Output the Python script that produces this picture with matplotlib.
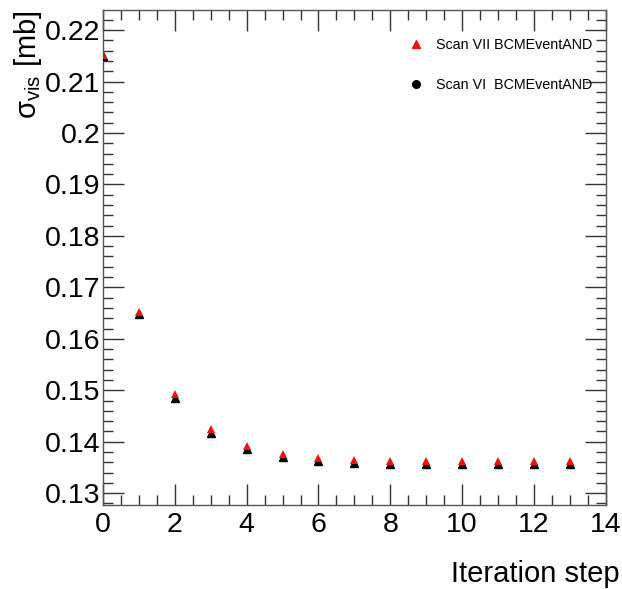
import matplotlib
matplotlib.use("Agg")
import matplotlib.pyplot as plt
from matplotlib.lines import Line2D
from matplotlib.ticker import MultipleLocator, FuncFormatter

plt.rcParams['font.family'] = ['Liberation Sans', 'DejaVu Sans']
plt.rcParams['mathtext.fontset'] = 'custom'
plt.rcParams['mathtext.rm'] = 'Liberation Sans'
plt.rcParams['mathtext.it'] = 'Liberation Sans:italic'

steps = list(range(14))
scan7 = [0.2152, 0.1652, 0.1492, 0.1424, 0.1391, 0.1377, 0.1369, 0.1365, 0.1363,
         0.1363, 0.1362, 0.1362, 0.1362, 0.1362]
scan6 = [0.2149, 0.1648, 0.1485, 0.1417, 0.1385, 0.1370, 0.1362, 0.1358, 0.1357,
         0.1357, 0.1356, 0.1356, 0.1356, 0.1356]
label7 = "Scan VII BCMEventAND"
label6 = "Scan VI  BCMEventAND"

fig = plt.figure(figsize=(6.22, 5.89), dpi=100)
ax = fig.add_axes([0.1656, 0.1426, 0.8084, 0.8404])

ax.plot(steps, scan6, linestyle='none', marker='^', markersize=5.5, color='black', zorder=3)
ax.plot(steps, scan7, linestyle='none', marker='^', markersize=5.5, color='#ee1111',
        markeredgewidth=0, zorder=4)

ax.set_xlim(0, 14)
ax.set_ylim(0.1277, 0.2239)
ax.xaxis.set_major_locator(MultipleLocator(2))
ax.xaxis.set_minor_locator(MultipleLocator(0.5))
ax.yaxis.set_major_locator(MultipleLocator(0.01))
ax.yaxis.set_minor_locator(MultipleLocator(0.002))
ax.yaxis.set_major_formatter(FuncFormatter(
    lambda v, p: "0.2" if abs(v - 0.2) < 1e-9 else f"{v:.2f}"))

ax.tick_params(which='both', direction='in', top=True, right=True, colors='#333333',
               labelcolor='black', labelsize=20.5)
ax.tick_params(which='major', length=15, width=1)
ax.tick_params(which='minor', length=7, width=1)
ax.tick_params(axis='x', pad=5)
ax.tick_params(axis='y', pad=2)
for s in ax.spines.values():
    s.set_color('#555555')
    s.set_linewidth(1)

ax.set_xlabel("Iteration step", fontsize=21, loc='right')
ax.xaxis.set_label_coords(1.028, -0.112)
ax.set_ylabel("σ$_{\\rm vis}$ [mb]", fontsize=21, loc='top')
ax.yaxis.set_label_coords(-0.117, 1.0)

handles = [Line2D([], [], linestyle='none', marker='^', color='#ee1111', markersize=5.5),
           Line2D([], [], linestyle='none', marker='o', color='black', markersize=5.5)]
leg = ax.legend(handles, [label7, label6], loc='upper right', bbox_to_anchor=(0.985, 0.955),
                frameon=False, fontsize=10.3, handletextpad=0.9, labelspacing=1.85,
                borderaxespad=0.0, handlelength=1.0)

fig.savefig("out.png", dpi=100)
